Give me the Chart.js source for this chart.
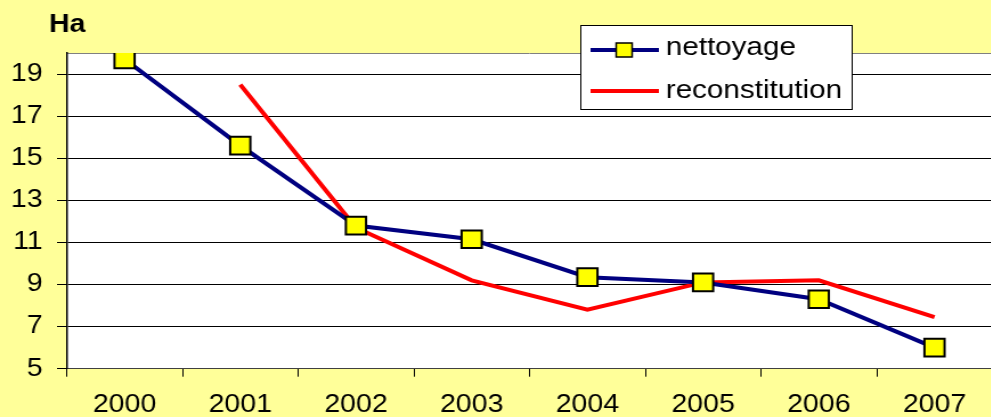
<!DOCTYPE html>
<html>
<head>
<meta charset="utf-8">
<script src="https://cdn.jsdelivr.net/npm/chart.js@4.4.1/dist/chart.umd.min.js"></script>
<style>
  html, body { margin: 0; padding: 0; background: #ffff99; overflow: hidden; }
  #wrap { width: 991px; height: 417px; overflow: hidden; }
  /* the source picture is stretched sideways, so is this one */
  #chart { transform: scaleX(1.14); transform-origin: 0 0; }
</style>
</head>
<body>
<div id="wrap"><canvas id="chart" width="885" height="417"></canvas></div>
<script>
// data
const years = ['2000', '2001', '2002', '2003', '2004', '2005', '2006', '2007'];
const nettoyage = [19.7, 15.6, 11.8, 11.15, 9.35, 9.1, 8.3, 6.0];
const reconstitution = [null, 18.5, 11.7, 9.2, 7.8, 9.1, 9.2, 7.45];
const yTickValues = [5, 7, 9, 11, 13, 15, 17, 19];
const yMin = 5, yMax = 20;
const unitLabel = 'Ha';

const FONT = '"Liberation Sans", Arial, sans-serif';

// white plot area + grey frame
const plotBg = {
    id: 'plotBg',
    beforeDraw(chart) {
        const { ctx, chartArea: a } = chart;
        ctx.save();
        ctx.fillStyle = '#ffffff';
        ctx.fillRect(a.left, a.top, a.right - a.left, a.bottom - a.top);
        ctx.strokeStyle = '#808080';
        ctx.lineWidth = 1;
        ctx.beginPath();
        ctx.moveTo(a.left, a.top + 0.5);
        ctx.lineTo(a.right, a.top + 0.5);
        ctx.stroke();
        ctx.restore();
    }
};

// "Ha" label and the boxed legend inside the plot
const extras = {
    id: 'extras',
    afterDraw(chart) {
        const ctx = chart.ctx;
        const ds = chart.data.datasets;
        ctx.save();
        ctx.fillStyle = '#000';
        ctx.font = 'bold 25px ' + FONT;
        ctx.textBaseline = 'alphabetic';
        ctx.fillText(unitLabel, 43, 32);

        // legend box
        ctx.fillStyle = '#ffffff';
        ctx.fillRect(509.5, 25.5, 238, 84);
        ctx.strokeStyle = '#000';
        ctx.lineWidth = 1;
        ctx.strokeRect(509.5, 25.5, 238, 84);

        const rows = [50, 91];
        const base = [55, 98];
        ds.forEach((d, i) => {
            ctx.strokeStyle = d.borderColor;
            ctx.lineWidth = 4;
            ctx.beginPath();
            ctx.moveTo(518, rows[i]);
            ctx.lineTo(578, rows[i]);
            ctx.stroke();
            if (d.pointRadius > 0) {
                ctx.fillStyle = d.pointBackgroundColor;
                ctx.fillRect(540.5, rows[i] - 7, 14, 14);
                ctx.strokeStyle = d.pointBorderColor;
                ctx.lineWidth = 1.5;
                ctx.strokeRect(540.5, rows[i] - 7, 14, 14);
            }
            ctx.fillStyle = '#000';
            ctx.font = '26px ' + FONT;
            ctx.fillText(d.label, 584, base[i]);
        });
        ctx.restore();
    }
};

const ctx = document.getElementById('chart').getContext('2d');
new Chart(ctx, {
    type: 'line',
    data: {
        labels: years,
        datasets: [{
            label: 'nettoyage',
            data: nettoyage,
            borderColor: '#000080',
            borderWidth: 4,
            pointStyle: 'rect',
            pointRadius: 12.5,
            pointBackgroundColor: '#ffff00',
            pointBorderColor: '#000000',
            pointBorderWidth: 2,
            tension: 0
        }, {
            label: 'reconstitution',
            data: reconstitution,
            borderColor: '#ff0000',
            borderWidth: 4,
            pointRadius: 0,
            tension: 0
        }]
    },
    options: {
        responsive: false,
        animation: false,
        devicePixelRatio: 1,
        layout: { padding: { top: 53, right: 1, left: 0, bottom: 0 } },
        plugins: {
            legend: { display: false },
            tooltip: { enabled: false }
        },
        scales: {
            x: {
                offset: true,
                grid: {
                    offset: true,
                    drawOnChartArea: false,
                    drawTicks: true,
                    tickLength: 8,
                    color: '#000'
                },
                border: { display: true, color: '#404040', width: 1 },
                ticks: {
                    color: '#000',
                    font: { family: FONT, size: 25 },
                    padding: 13,
                    maxRotation: 0
                },
                afterFit(scale) { scale.height = 48.3; }
            },
            y: {
                min: yMin,
                max: yMax,
                afterBuildTicks(scale) {
                    scale.ticks = yTickValues.map(v => ({ value: v }));
                },
                grid: {
                    color: '#000',
                    lineWidth: 1,
                    drawTicks: true,
                    tickLength: 8.5
                },
                border: { display: true, color: '#000', width: 1.5 },
                ticks: {
                    color: '#000',
                    font: { family: FONT, size: 25 },
                    padding: 12.6
                },
                afterFit(scale) { scale.width = 58.5; }
            }
        }
    },
    plugins: [plotBg, extras]
});
</script>
</body>
</html>
